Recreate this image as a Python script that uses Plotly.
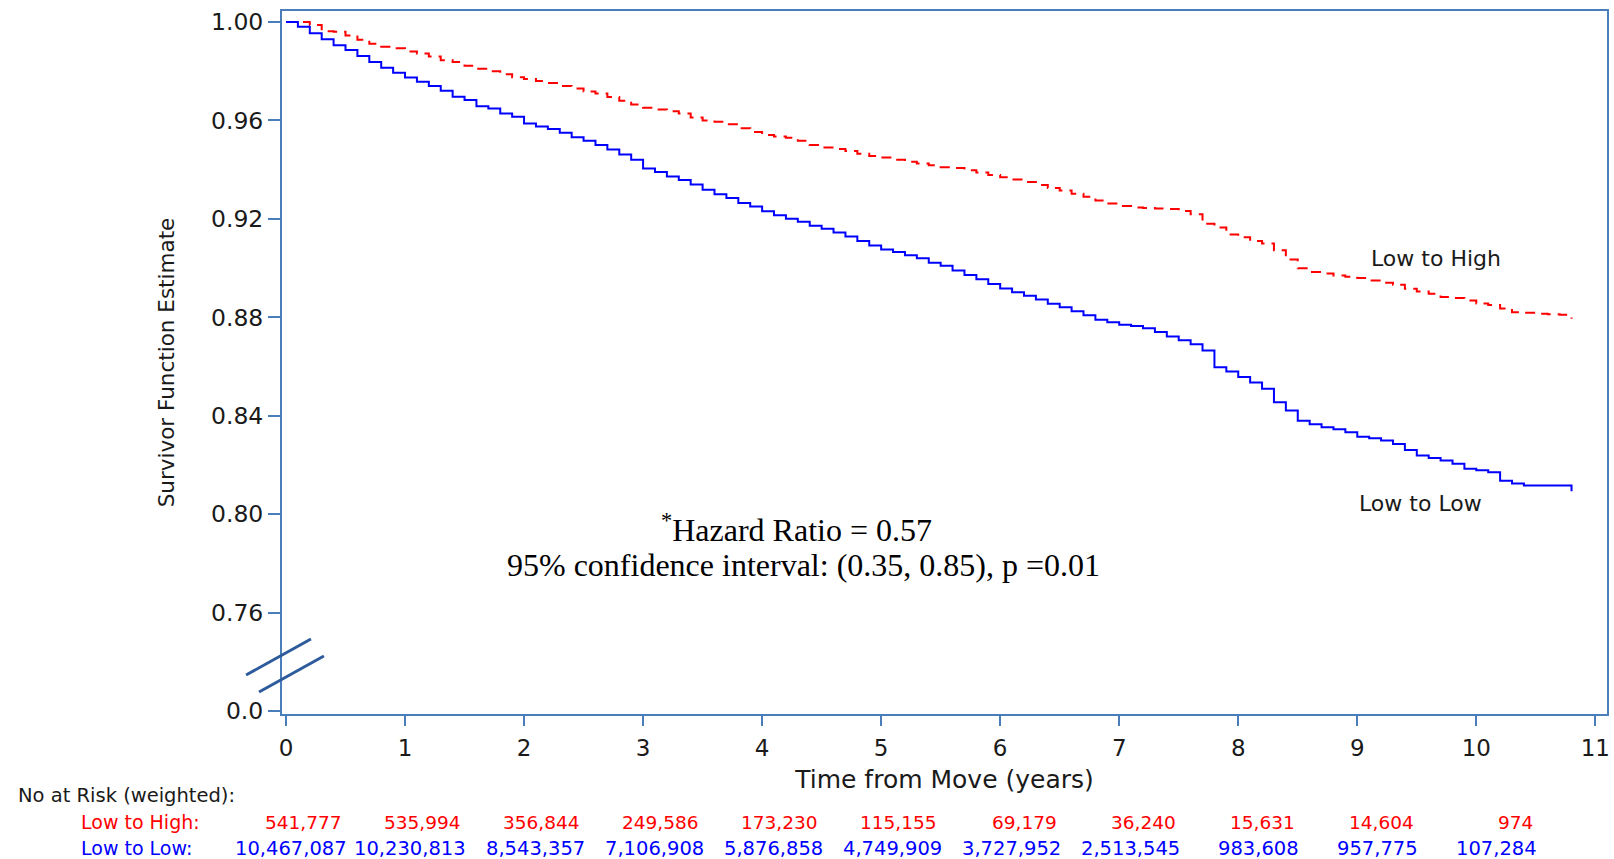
import plotly.graph_objects as go

# ---------------- data ----------------
times = [
    0.0, 0.1, 0.2, 0.3, 0.4, 0.5, 0.6, 0.7, 0.8, 0.9,
    1.0, 1.1, 1.2, 1.3, 1.4, 1.5, 1.6, 1.7, 1.8, 1.9,
    2.0, 2.1, 2.2, 2.3, 2.4, 2.5, 2.6, 2.7, 2.8, 2.9,
    3.0, 3.1, 3.2, 3.3, 3.4, 3.5, 3.6, 3.7, 3.8, 3.9,
    4.0, 4.1, 4.2, 4.3, 4.4, 4.5, 4.6, 4.7, 4.8, 4.9,
    5.0, 5.1, 5.2, 5.3, 5.4, 5.5, 5.6, 5.7, 5.8, 5.9,
    6.0, 6.1, 6.2, 6.3, 6.4, 6.5, 6.6, 6.7, 6.8, 6.9,
    7.0, 7.1, 7.2, 7.3, 7.4, 7.5, 7.6, 7.7, 7.8, 7.9,
    8.0, 8.1, 8.2, 8.3, 8.4, 8.5, 8.6, 8.7, 8.8, 8.9,
    9.0, 9.1, 9.2, 9.3, 9.4, 9.5, 9.6, 9.7, 9.8, 9.9,
    10.0, 10.1, 10.2, 10.3, 10.4, 10.5, 10.6, 10.7, 10.8,
]

surv_low_to_high = [
    1.0000, 1.0000, 0.9988, 0.9962, 0.9960, 0.9945, 0.9928, 0.9912, 0.9900, 0.9893,
    0.9880, 0.9872, 0.9860, 0.9845, 0.9838, 0.9822, 0.9810, 0.9800, 0.9788, 0.9776,
    0.9768, 0.9760, 0.9752, 0.9740, 0.9730, 0.9718, 0.9710, 0.9695, 0.9680, 0.9665,
    0.9652, 0.9645, 0.9637, 0.9628, 0.9612, 0.9600, 0.9595, 0.9585, 0.9568, 0.9553,
    0.9541, 0.9535, 0.9530, 0.9518, 0.9500, 0.9490, 0.9484, 0.9476, 0.9465, 0.9456,
    0.9449, 0.9440, 0.9432, 0.9425, 0.9418, 0.9410, 0.9407, 0.9398, 0.9388, 0.9378,
    0.9369, 0.9360, 0.9350, 0.9338, 0.9325, 0.9315, 0.9302, 0.9290, 0.9275, 0.9262,
    0.9252, 0.9246, 0.9244, 0.9242, 0.9240, 0.9232, 0.9219, 0.9180, 0.9165, 0.9137,
    0.9125, 0.9110, 0.9100, 0.9072, 0.9035, 0.8999, 0.8984, 0.8978, 0.8970, 0.8965,
    0.8960, 0.8950, 0.8940, 0.8932, 0.8916, 0.8905, 0.8896, 0.8882, 0.8878, 0.8868,
    0.8856, 0.8850, 0.8836, 0.8821, 0.8818, 0.8814, 0.8812, 0.8810, 0.8794,
]

surv_low_to_low = [
    1.0000, 0.9981, 0.9954, 0.9930, 0.9906, 0.9886, 0.9862, 0.9838, 0.9814, 0.9794,
    0.9775, 0.9757, 0.9740, 0.9721, 0.9696, 0.9683, 0.9658, 0.9649, 0.9628, 0.9615,
    0.9588, 0.9575, 0.9565, 0.9550, 0.9532, 0.9518, 0.9500, 0.9482, 0.9462, 0.9440,
    0.9405, 0.9390, 0.9372, 0.9358, 0.9340, 0.9318, 0.9300, 0.9285, 0.9265, 0.9250,
    0.9231, 0.9215, 0.9200, 0.9188, 0.9172, 0.9160, 0.9145, 0.9128, 0.9110, 0.9092,
    0.9076, 0.9065, 0.9052, 0.9040, 0.9022, 0.9009, 0.8990, 0.8972, 0.8955, 0.8935,
    0.8917, 0.8902, 0.8888, 0.8872, 0.8855, 0.8841, 0.8825, 0.8808, 0.8790, 0.8780,
    0.8770, 0.8765, 0.8755, 0.8740, 0.8722, 0.8707, 0.8690, 0.8665, 0.8597, 0.8580,
    0.8557, 0.8535, 0.8510, 0.8455, 0.8421, 0.8380, 0.8365, 0.8353, 0.8345, 0.8333,
    0.8315, 0.8308, 0.8299, 0.8285, 0.8261, 0.8238, 0.8228, 0.8218, 0.8205, 0.8184,
    0.8178, 0.8170, 0.8136, 0.8125, 0.8116, 0.8116, 0.8116, 0.8116, 0.8093,
]

y_tick_values = [0.72, 0.76, 0.80, 0.84, 0.88, 0.92, 0.96, 1.00]
y_tick_labels = ["0.0", "0.76", "0.80", "0.84", "0.88", "0.92", "0.96", "1.00"]
x_tick_values = [0, 1, 2, 3, 4, 5, 6, 7, 8, 9, 10, 11]

risk_times = [0, 1, 2, 3, 4, 5, 6, 7, 8, 9, 10]
risk_low_to_high = [541777, 535994, 356844, 249586, 173230, 115155, 69179, 36240, 15631, 14604, 974]
risk_low_to_low = [10467087, 10230813, 8543357, 7106908, 5876858, 4749909, 3727952, 2513545, 983608, 957775, 107284]

series_names = ["Low to High", "Low to Low"]
hazard_line1 = "<sup>*</sup>Hazard Ratio = 0.57"
hazard_line2 = "95% confidence interval: (0.35, 0.85), p =0.01"

# ---------------- styles ----------------
RED = "#ff0000"
BLUE = "#0000ff"
AXIS = "#4a7ebb"
TXT = "#1a1a1a"
SANS = "DejaVu Sans"
SERIF = "Liberation Serif"

fig = go.Figure()
fig.add_trace(go.Scatter(
    x=times, y=surv_low_to_high, mode="lines", line_shape="hv",
    name=series_names[0], line=dict(color=RED, width=2, dash="10px,7px"),
))
fig.add_trace(go.Scatter(
    x=times, y=surv_low_to_low, mode="lines", line_shape="hv",
    name=series_names[1], line=dict(color=BLUE, width=2),
))

W, H = 1614, 859
L, R, T, B = 282, 4, 11, 145

fig.update_layout(
    width=W, height=H, autosize=False,
    margin=dict(l=L, r=R, t=T, b=B),
    paper_bgcolor="white", plot_bgcolor="white",
    showlegend=False,
    font=dict(family=SANS, color=TXT),
)

fig.update_xaxes(
    range=[-0.0335, 11.098], tickvals=x_tick_values,
    showline=True, linecolor=AXIS, linewidth=2, mirror=True,
    ticks="outside", ticklen=10, tickwidth=2, tickcolor=AXIS,
    showgrid=False, zeroline=False,
    tickfont=dict(family=SANS, size=23, color=TXT),
    ticklabelstandoff=2,
    title=dict(text="Time from Move (years)", font=dict(family=SANS, size=25, color=TXT), standoff=11),
)
fig.update_yaxes(
    range=[0.71878, 1.00448], tickvals=y_tick_values, ticktext=y_tick_labels,
    showline=True, linecolor=AXIS, linewidth=2, mirror=True,
    ticks="outside", ticklen=12, tickwidth=2, tickcolor=AXIS,
    showgrid=False, zeroline=False,
    tickfont=dict(family=SANS, size=23.5, color=TXT),
    ticklabelstandoff=0,
    title=dict(text="Survivor Function Estimate", font=dict(family=SANS, size=21.5, color=TXT), standoff=30),
)

# axis break marks (decorative, paper coordinates)
pw, ph = W - L - R, H - T - B
def px2paper(px, py):
    return (px - L) / pw, (H - B - py) / ph

for (x0, y0, x1, y1) in [(246, 675, 311, 639), (259, 692, 324, 656)]:
    a0 = px2paper(x0, y0)
    a1 = px2paper(x1, y1)
    fig.add_shape(type="line", xref="paper", yref="paper",
                  x0=a0[0], y0=a0[1], x1=a1[0], y1=a1[1],
                  line=dict(color="#2d5b9c", width=3))

# curve labels
fig.add_annotation(x=9.66, y=0.904, text=series_names[0], showarrow=False,
                   font=dict(family=SANS, size=22, color=TXT), xanchor="center", yanchor="middle")
fig.add_annotation(x=9.53, y=0.8043, text=series_names[1], showarrow=False,
                   font=dict(family=SANS, size=22, color=TXT), xanchor="center", yanchor="middle")

# hazard ratio text
fig.add_annotation(x=4.29, y=0.7942, text=hazard_line1, showarrow=False,
                   font=dict(family=SERIF, size=32, color="black"),
                   xanchor="center", yanchor="middle")
fig.add_annotation(x=4.35, y=0.7792, text=hazard_line2, showarrow=False,
                   font=dict(family=SERIF, size=32, color="black"),
                   xanchor="center", yanchor="middle")

# number at risk table
fig.add_annotation(xref="paper", yref="paper", x=px2paper(15, 0)[0], y=px2paper(0, 795)[1],
                   text="No at Risk (weighted):", showarrow=False, xanchor="left", yanchor="middle",
                   font=dict(family=SANS, size=19.5, color=TXT))
fig.add_annotation(xref="paper", yref="paper", x=px2paper(79, 0)[0], y=px2paper(0, 822)[1],
                   text=series_names[0] + ":", showarrow=False, xanchor="left", yanchor="middle",
                   font=dict(family=SANS, size=19, color=RED))
fig.add_annotation(xref="paper", yref="paper", x=px2paper(79, 0)[0], y=px2paper(0, 848)[1],
                   text=series_names[1] + ":", showarrow=False, xanchor="left", yanchor="middle",
                   font=dict(family=SANS, size=19, color=BLUE))

for t, v in zip(risk_times, risk_low_to_high):
    fig.add_annotation(xref="x", yref="paper", x=t + 0.49, y=px2paper(0, 822)[1],
                       text=f"{v:,}", showarrow=False, xanchor="right", yanchor="middle",
                       font=dict(family=SANS, size=18.5, color=RED))
for t, v in zip(risk_times, risk_low_to_low):
    fig.add_annotation(xref="x", yref="paper", x=t + 0.53, y=px2paper(0, 848)[1],
                       text=f"{v:,}", showarrow=False, xanchor="right", yanchor="middle",
                       font=dict(family=SANS, size=19.5, color=BLUE))

fig.write_html(
    "out.html",
    config={"displayModeBar": False},
    post_script="document.body.style.margin='0';document.body.style.overflow='hidden';",
)
